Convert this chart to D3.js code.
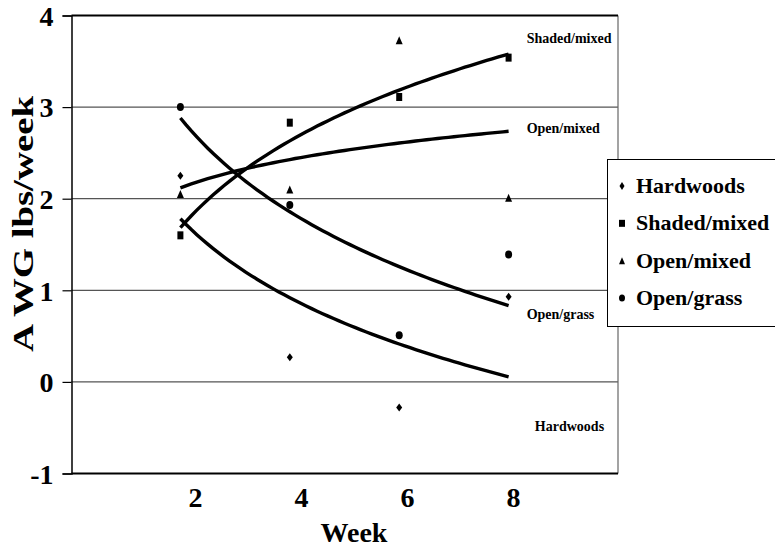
<!DOCTYPE html>
<html><head><meta charset="utf-8">
<script src="https://cdn.jsdelivr.net/npm/d3@7"></script>
<style>
html,body{margin:0;padding:0;background:#fff;}
svg{display:block;}
svg text{font-family:"Liberation Serif","Times New Roman",serif;font-weight:bold;fill:#000;}
</style></head>
<body>
<svg id="chart" width="775" height="548"></svg>
<script>
// ---- data ----
const weeks = [2, 4, 6, 8];
const seriesNames = ["Hardwoods", "Shaded/mixed", "Open/mixed", "Open/grass"];
const hardwoods   = [2.25, 0.27, -0.28, 0.93];
const shadedMixed = [1.60, 2.83, 3.11, 3.54];
const openMixed   = [2.05, 2.10, 3.73, 2.01];
const openGrass   = [3.00, 1.93, 0.51, 1.39];
const yTicks = [-1, 0, 1, 2, 3, 4];
const xTickLabels = ["2", "4", "6", "8"];
const symbolsUsed = ["diamond", "square", "triangle", "circle"];

const seriesValues = [hardwoods, shadedMixed, openMixed, openGrass];

const svg = d3.select("#chart");
const L = 71.5, R = 618, T = 15.5, B = 473.5;
const x = d3.scaleLinear().domain([0, 10]).range([71, 618]);
const y = d3.scaleLinear().domain([-1, 4]).range([B, T]);
const xLab = d3.scalePoint().domain(xTickLabels).range([195, 513]);
const FONT = "Liberation Serif";

// gridlines
svg.append("g").selectAll("line").data(yTicks.filter(d => d > -1 && d < 4)).join("line")
  .attr("x1", L).attr("x2", R).attr("y1", d => y(d)).attr("y2", d => y(d))
  .attr("stroke", "#555").attr("stroke-width", 1.2);
// right border
svg.append("line").attr("x1", R).attr("x2", R).attr("y1", T).attr("y2", B)
  .attr("stroke", "#666").attr("stroke-width", 1.2);
// top border
svg.append("line").attr("x1", L).attr("x2", R).attr("y1", y(4)).attr("y2", y(4))
  .attr("stroke", "#000").attr("stroke-width", 2);
// bottom axis line
svg.append("line").attr("x1", L).attr("x2", R).attr("y1", y(-1)).attr("y2", y(-1))
  .attr("stroke", "#000").attr("stroke-width", 2);

// y axis
const yAxis = d3.axisLeft(y).tickValues(yTicks).tickSize(9).tickFormat(d => String(d));
const gy = svg.append("g").attr("transform", `translate(${L},0)`).call(yAxis)
  .attr("font-family", FONT).attr("font-size", 28);
gy.select(".domain").attr("stroke", "#000").attr("stroke-width", 1.5);
gy.selectAll(".tick line").attr("stroke", "#000").attr("stroke-width", 1.2);
gy.selectAll(".tick text").attr("x", -18).attr("dy", "0.35em")
  .style("font-size", "28px").style("font-family", FONT).style("font-weight", "bold").attr("fill", "#000");

// x tick labels
const xAxis = d3.axisBottom(xLab).tickSize(0).tickPadding(0);
const gx = svg.append("g").attr("transform", `translate(0,${B})`).call(xAxis)
  .attr("font-family", FONT).attr("font-size", 28);
gx.select(".domain").remove();
gx.selectAll(".tick text").attr("y", 33).attr("dy", 0)
  .style("font-size", "28px").style("font-family", FONT).style("font-weight", "bold").attr("fill", "#000");

// axis titles
svg.append("text").attr("x", 354).attr("y", 542).attr("text-anchor", "middle")
  .style("font-size", "28px").text("Week");
svg.append("text").attr("transform", "translate(33,224) rotate(-90)").attr("text-anchor", "middle")
  .attr("textLength", 256).attr("lengthAdjust", "spacingAndGlyphs")
  .style("font-size", "29px").text("A WG lbs/week");

// logarithmic trendlines computed from each series (least squares on ln(week))
function logFit(vals) {
  const lx = weeks.map(Math.log);
  const mx = d3.mean(lx), my = d3.mean(vals);
  let sxy = 0, sxx = 0;
  lx.forEach((v, i) => { sxy += (v - mx) * (vals[i] - my); sxx += (v - mx) * (v - mx); });
  const b = sxy / sxx, a = my - b * mx;
  return w => a + b * Math.log(w);
}
const grid = d3.range(weeks[0], weeks[weeks.length - 1] + 0.001, 0.1);
const line = d3.line().x(d => x(d[0])).y(d => y(d[1])).curve(d3.curveLinear);
seriesValues.forEach(vals => {
  const f = logFit(vals);
  svg.append("path").datum(grid.map(w => [w, f(w)])).attr("d", line)
    .attr("fill", "none").attr("stroke", "#000").attr("stroke-width", 3.4)
    .attr("stroke-linecap", "butt");
});

// markers
function markerPath(kind, w, h) {
  if (kind === "circle") {
    const rx = w/2, ry = h/2;
    return `M${-rx},0A${rx},${ry} 0 1,0 ${rx},0A${rx},${ry} 0 1,0 ${-rx},0Z`;
  }
  const p = d3.path();
  if (kind === "diamond") { p.moveTo(0, -h/2); p.lineTo(w/2, 0); p.lineTo(0, h/2); p.lineTo(-w/2, 0); p.closePath(); }
  else if (kind === "square") { p.rect(-w/2, -h/2, w, h); }
  else { p.moveTo(0, -h/2); p.lineTo(w/2, h/2); p.lineTo(-w/2, h/2); p.closePath(); }
  return p.toString();
}
const mSize = { diamond: [6, 8], square: [6, 8], triangle: [7, 8], circle: [7, 8] };
seriesValues.forEach((vals, si) => {
  const kind = symbolsUsed[si];
  const [w, h] = mSize[kind];
  svg.append("g").selectAll("path").data(vals).join("path")
    .attr("transform", (d, i) => `translate(${x(weeks[i])},${y(d)})`)
    .attr("d", markerPath(kind, w, h))
    .attr("fill", "#000");
});

// in-plot labels
const plotLabels = [
  { name: "Shaded/mixed", wx: 8.33, v: 3.70 },
  { name: "Open/mixed",   wx: 8.33, v: 2.72 },
  { name: "Open/grass",   wx: 8.33, v: 0.69 },
  { name: "Hardwoods",    wx: 8.48, v: -0.54 }
];
svg.append("g").selectAll("text").data(plotLabels).join("text")
  .attr("x", d => x(d.wx)).attr("y", d => y(d.v))
  .style("font-size", "14px").text(d => d.name);

// legend
const lg = svg.append("g");
lg.append("rect").attr("x", 607.5).attr("y", 159.5).attr("width", 200).attr("height", 167)
  .attr("fill", "#fff").attr("stroke", "#000").attr("stroke-width", 1);
const legY = d3.scalePoint().domain(seriesNames).range([186, 298]);
const legSize = { diamond: [5, 8], square: [6, 7], triangle: [6, 7], circle: [6, 7] };
seriesNames.forEach((n, i) => {
  const kind = symbolsUsed[i];
  const [w, h] = legSize[kind];
  lg.append("path").attr("transform", `translate(622,${legY(n)})`)
    .attr("d", markerPath(kind, w, h)).attr("fill", "#000");
  lg.append("text").attr("x", 636).attr("y", legY(n) + 7)
    .style("font-size", "22px").text(n);
});
</script>
</body></html>
